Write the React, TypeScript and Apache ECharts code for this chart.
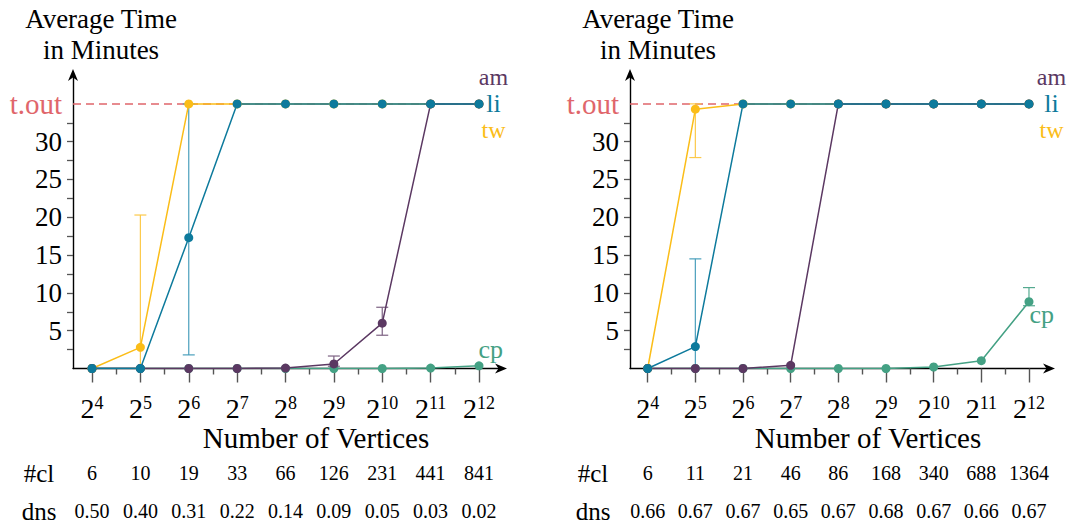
import React, { useEffect, useRef } from "react";
import * as echarts from "echarts";

// ---------- data ----------
const exponents = [4, 5, 6, 7, 8, 9, 10, 11, 12];
const xIdx = [0, 1, 2, 3, 4, 5, 6, 7, 8];
const xMinorTicks = [0.5, 1.5, 2.5, 3.5, 4.5, 5.5, 6.5, 7.5];
const yLabelValues = [5, 10, 15, 20, 25, 30];
const yTickValues = [2.5, 5, 7.5, 10, 12.5, 15, 17.5, 20, 22.5, 25, 27.5, 30, 32.5];
const timeout = 35;

const leftTw = [0, 2.8, 35, 35, 35, 35, 35, 35, 35];
const leftLi = [0, 0, 17.3, 35, 35, 35, 35, 35, 35];
const leftAm = [0, 0, 0, 0, 0.05, 0.6, 6.0, 35, 35];
const leftCp = [0, 0, 0, 0, 0, 0, 0, 0.05, 0.35];
const leftTwErr = [[1, 0, 20.3]];
const leftLiErr = [[2, 1.8, 35]];
const leftAmErr = [[5, 0.3, 1.65], [6, 4.4, 8.1]];
const leftCpErr: number[][] = [];
const leftCl = ["6", "10", "19", "33", "66", "126", "231", "441", "841"];
const leftDns = ["0.50", "0.40", "0.31", "0.22", "0.14", "0.09", "0.05", "0.03", "0.02"];

const rightTw = [0, 34.3, 35, 35, 35, 35, 35, 35, 35];
const rightLi = [0, 2.9, 35, 35, 35, 35, 35, 35, 35];
const rightAm = [0, 0, 0, 0.42, 35, 35, 35, 35, 35];
const rightCp = [0, 0, 0, 0, 0, 0, 0.2, 1.03, 8.84];
const rightTwErr = [[1, 27.9, 35]];
const rightLiErr = [[1, 0, 14.5]];
const rightAmErr: number[][] = [];
const rightCpErr = [[8, 8.3, 10.7]];
const rightCl = ["6", "11", "21", "46", "86", "168", "340", "688", "1364"];
const rightDns = ["0.66", "0.67", "0.67", "0.65", "0.67", "0.68", "0.67", "0.66", "0.67"];

// ---------- styles ----------
const FONT = "'Liberation Serif', 'Times New Roman', serif";
const C = {
  tw: "#fbbd18",
  li: "#0d7a9c",
  am: "#5b3862",
  cp: "#44a184",
  red: "#e0666b",
  twErr: "#fcc94a",
  liErr: "#4a9fbc",
  amErr: "#7d6283",
  cpErr: "#55aa90",
};
const ARROW = "path://M0,0 L5,12 L0,8.5 L-5,12 Z";
const END_FS = 24;
const END_LH = 26.5;

const panels = [
  { left: 73, width: 428, min: -0.393, max: 8.455, tw: leftTw, li: leftLi, am: leftAm, cp: leftCp,
    twErr: leftTwErr, liErr: leftLiErr, amErr: leftAmErr, cpErr: leftCpErr, cl: leftCl, dns: leftDns,
    titleX: 101, nameX: 316, headX: 39, cpLabelOffset: [-5, -16], endLabelDist: 10 },
  { left: 630, width: 419, min: -0.371, max: 8.42, tw: rightTw, li: rightLi, am: rightAm, cp: rightCp,
    twErr: rightTwErr, liErr: rightLiErr, amErr: rightAmErr, cpErr: rightCpErr, cl: rightCl, dns: rightDns,
    titleX: 658, nameX: 868, headX: 593, cpLabelOffset: [-4, 13], endLabelDist: 18 },
];

const GRID_TOP = 75;
const GRID_H = 293.5;
const Y_MAX = 38.82;

function errRender(color: string) {
  return (_params: any, api: any) => {
    const x = api.value(0);
    const lo = api.value(1);
    const hi = api.value(2);
    const pLo = api.coord([x, lo]);
    const pHi = api.coord([x, hi]);
    const w = 6;
    const style = { stroke: color, lineWidth: 1.2, fill: "none" };
    return {
      type: "group",
      children: [
        { type: "line", shape: { x1: pLo[0], y1: pLo[1], x2: pHi[0], y2: pHi[1] }, style },
        { type: "line", shape: { x1: pHi[0] - w, y1: pHi[1], x2: pHi[0] + w, y2: pHi[1] }, style },
        { type: "line", shape: { x1: pLo[0] - w, y1: pLo[1], x2: pLo[0] + w, y2: pLo[1] }, style },
      ],
    };
  };
}

function lineSeries(values: number[], color: string, g: number, label: any) {
  const last = values.length - 1;
  return {
    type: "line",
    xAxisIndex: g * 4,
    yAxisIndex: g,
    symbol: "circle",
    symbolSize: 9,
    lineStyle: { color, width: 1.5 },
    itemStyle: { color },
    emphasis: { disabled: true },
    z: 3,
    data: values.map((v, i) =>
      i === last && label
        ? { value: [xIdx[i], v], label: { show: true, fontFamily: FONT, fontSize: 26, color, ...label } }
        : [xIdx[i], v]
    ),
  };
}

function errSeries(data: number[][], color: string, g: number) {
  return {
    type: "custom",
    xAxisIndex: g * 4,
    yAxisIndex: g,
    renderItem: errRender(color),
    encode: { x: 0, y: [1, 2] },
    data,
    z: 2,
  };
}

function buildOption() {
  const grids: any[] = [];
  const xAxes: any[] = [];
  const yAxes: any[] = [];
  const series: any[] = [];
  const graphics: any[] = [];

  panels.forEach((p, g) => {
    grids.push({ left: p.left, top: GRID_TOP, width: p.width, height: GRID_H, containLabel: false, outerBoundsMode: "none" });
    const base = { type: "value", gridIndex: g, position: "bottom", min: p.min, max: p.max, splitLine: { show: false } };
    // main axis
    xAxes.push({
      ...base,
      axisLine: { show: true, onZero: false, symbol: ["none", ARROW], symbolSize: [10, 13], lineStyle: { color: "#000", width: 1.4 } },
      axisTick: { show: true, customValues: xIdx, length: 14, lineStyle: { color: "#555", width: 1.4 } },
      axisLabel: {
        show: true,
        customValues: xIdx,
        margin: 25,
        formatter: (v: number) => `{b|2}{s|${exponents[Math.round(v)]}}`,
        rich: {
          b: { fontFamily: FONT, fontSize: 28, color: "#000", lineHeight: 30 },
          s: { fontFamily: FONT, fontSize: 18, color: "#000", verticalAlign: "top", lineHeight: 16 },
        },
      },
    });
    // minor ticks
    xAxes.push({
      ...base,
      axisLine: { show: false, onZero: false },
      axisTick: { show: true, customValues: xMinorTicks, length: 6, lineStyle: { color: "#555", width: 1.4 } },
      axisLabel: { show: false },
    });
    // #cl row
    xAxes.push({
      ...base,
      axisLine: { show: false, onZero: false },
      axisTick: { show: false },
      axisLabel: { show: true, customValues: xIdx, margin: 94, fontFamily: FONT, fontSize: 20, color: "#000",
        formatter: (v: number) => p.cl[Math.round(v)] },
    });
    // dns row
    xAxes.push({
      ...base,
      axisLine: { show: false, onZero: false },
      axisTick: { show: false },
      axisLabel: { show: true, customValues: xIdx, margin: 132, fontFamily: FONT, fontSize: 20, color: "#000",
        formatter: (v: number) => p.dns[Math.round(v)] },
    });

    yAxes.push({
      type: "value",
      gridIndex: g,
      position: "left",
      min: 0,
      max: Y_MAX,
      splitLine: { show: false },
      axisLine: { show: true, onZero: false, symbol: ["none", ARROW], symbolSize: [10, 13], lineStyle: { color: "#000", width: 1.4 } },
      axisTick: { show: true, customValues: yTickValues, length: 6, lineStyle: { color: "#555", width: 1.3 } },
      axisLabel: {
        show: true,
        customValues: [...yLabelValues, timeout],
        margin: 11,
        fontFamily: FONT,
        fontSize: 27,
        color: "#000",
        formatter: (v: number) => (Math.abs(v - timeout) < 1e-6 ? "{r|t.out}" : String(v)),
        rich: { r: { fontFamily: FONT, fontSize: 29, color: C.red } },
      },
    });

    // timeout reference line (lowest layer)
    series.push({
      type: "line",
      xAxisIndex: g * 4,
      yAxisIndex: g,
      data: [],
      z: 1,
      markLine: {
        silent: true,
        z: 1,
        symbol: "none",
        label: { show: false },
        lineStyle: { color: C.red, type: [8, 5], width: 1.5 },
        data: [[{ coord: [p.min, timeout] }, { coord: [xIdx[xIdx.length - 1], timeout] }]],
      },
    });

    // error bars (below lines)
    series.push(errSeries(p.cpErr, C.cpErr, g));
    series.push(errSeries(p.twErr, C.twErr, g));
    series.push(errSeries(p.amErr, C.amErr, g));
    series.push(errSeries(p.liErr, C.liErr, g));

    series.push(lineSeries(p.cp, C.cp, g, { formatter: "cp", position: "right", distance: 0, offset: p.cpLabelOffset }));
    series.push(lineSeries(p.tw, C.tw, g, null));
    series.push(lineSeries(p.am, C.am, g, null));
    // stacked end labels for am / li / tw (all end at the timeout line)
    series.push(
      lineSeries(p.li, C.li, g, {
        formatter: "{a|am}\n{l|li}\n{t|tw}",
        position: "right",
        distance: p.endLabelDist,
        align: "center",
        verticalAlign: "middle",
        lineHeight: END_LH,
        rich: {
          a: { color: C.am, fontFamily: FONT, fontSize: END_FS, lineHeight: END_LH },
          l: { color: C.li, fontFamily: FONT, fontSize: END_FS + 2, lineHeight: END_LH },
          t: { color: C.tw, fontFamily: FONT, fontSize: END_FS, lineHeight: END_LH },
        },
      })
    );

    graphics.push({
      type: "text",
      x: p.titleX,
      y: 3,
      style: { text: "Average Time\nin Minutes", textAlign: "center", textVerticalAlign: "top", fontFamily: FONT, fontSize: 27, lineHeight: 31, fill: "#000" },
    });
    graphics.push({
      type: "text",
      x: p.nameX,
      y: 438,
      style: { text: "Number of Vertices", textAlign: "center", textVerticalAlign: "middle", fontFamily: FONT, fontSize: 29, fill: "#000" },
    });
    graphics.push({
      type: "text",
      x: p.headX,
      y: 473,
      style: { text: "#cl", textAlign: "center", textVerticalAlign: "middle", fontFamily: FONT, fontSize: 25, fill: "#000" },
    });
    graphics.push({
      type: "text",
      x: p.headX,
      y: 511,
      style: { text: "dns", textAlign: "center", textVerticalAlign: "middle", fontFamily: FONT, fontSize: 25, fill: "#000" },
    });
  });

  return {
    animation: false,
    backgroundColor: "#fff",
    textStyle: { fontFamily: FONT },
    grid: grids,
    xAxis: xAxes,
    yAxis: yAxes,
    series,
    graphic: graphics,
  };
}

export default function App() {
  const ref = useRef<HTMLDivElement>(null);
  useEffect(() => {
    document.body.style.margin = "0";
    if (!ref.current) return;
    const chart = echarts.init(ref.current, undefined, { renderer: "svg" });
    chart.setOption(buildOption() as any);
    return () => chart.dispose();
  }, []);
  return <div ref={ref} style={{ width: 1072, height: 525 }} />;
}
